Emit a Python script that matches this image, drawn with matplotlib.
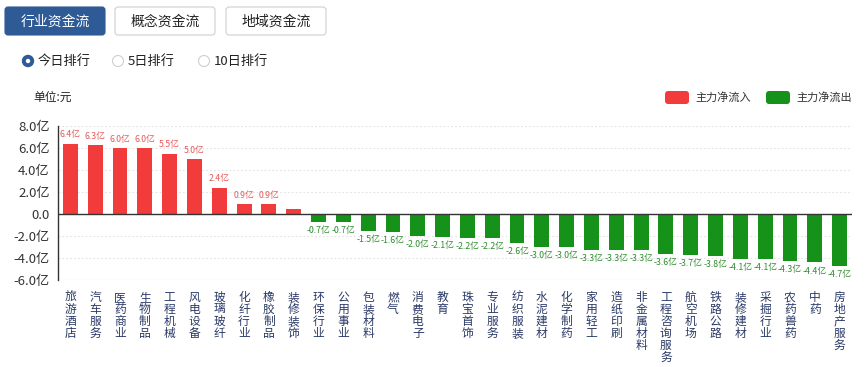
import matplotlib
matplotlib.use("Agg")
import matplotlib.pyplot as plt
from matplotlib.patches import FancyBboxPatch, Circle
import numpy as np

plt.rcParams['font.family'] = ['Noto Sans CJK SC', 'DejaVu Sans']

categories = ['旅游酒店', '汽车服务', '医药商业', '生物制品', '工程机械', '风电设备', '玻璃玻纤',
              '化纤行业', '橡胶制品', '装修装饰', '环保行业', '公用事业', '包装材料', '燃气',
              '消费电子', '教育', '珠宝首饰', '专业服务', '纺织服装', '水泥建材', '化学制药',
              '家用轻工', '造纸印刷', '非金属材料', '工程咨询服务', '航空机场', '铁路公路',
              '装修建材', '采掘行业', '农药兽药', '中药', '房地产服务']
values = [6.4, 6.3, 6.0, 6.0, 5.5, 5.0, 2.4, 0.9, 0.9, 0.5,
          -0.7, -0.7, -1.5, -1.6, -2.0, -2.1, -2.2, -2.2, -2.6, -3.0, -3.0,
          -3.3, -3.3, -3.3, -3.6, -3.7, -3.8, -4.1, -4.1, -4.3, -4.4, -4.7]
show_label = [True] * 9 + [False] + [True] * 22
yticks = [-6, -4, -2, 0, 2, 4, 6, 8]
tabs = ['行业资金流', '概念资金流', '地域资金流']
radios = ['今日排行', '5日排行', '10日排行']
legend_names = ['主力净流入', '主力净流出']

RED = '#f23c3c'
GREEN = '#16921a'
W, H = 865, 367

fig = plt.figure(figsize=(W / 100, H / 100), dpi=100)

# UI overlay in pixel coordinates
ui = fig.add_axes([0, 0, 1, 1])
ui.set_xlim(0, W)
ui.set_ylim(H, 0)
ui.axis('off')

tab_x = [5, 115, 226]
for i, (t, x0) in enumerate(zip(tabs, tab_x)):
    active = i == 0
    ui.add_patch(FancyBboxPatch((x0, 7), 100, 28, boxstyle='round,pad=0,rounding_size=3',
                                fc='#2e5a96' if active else 'white',
                                ec='#2e5a96' if active else '#cfcfcf', lw=0.8))
    ui.text(x0 + 50, 21.5, t, ha='center', va='center', fontsize=10,
            color='white' if active else '#222222')

radio_x = [28, 118, 204]
for i, (r, x0) in enumerate(zip(radios, radio_x)):
    if i == 0:
        ui.add_patch(Circle((x0, 61), 5.5, fc='#2e5a96', ec='#2e5a96'))
        ui.add_patch(Circle((x0, 61), 2.2, fc='white', ec='none'))
    else:
        ui.add_patch(Circle((x0, 61), 5.5, fc='white', ec='#cfcfcf', lw=0.8))
    ui.text(x0 + 10, 61, r, ha='left', va='center', fontsize=9.5, color='#222222')

ui.text(33, 97, '单位:元', ha='left', va='center', fontsize=8.5, color='#222222')

for name, col, x0 in zip(legend_names, [RED, GREEN], [665, 766]):
    ui.add_patch(FancyBboxPatch((x0, 91), 24, 13, boxstyle='round,pad=0,rounding_size=3',
                                fc=col, ec='none'))
    ui.text(x0 + 30, 97.5, name, ha='left', va='center', fontsize=8, color='#333333')

# main chart
ax = fig.add_axes([58 / W, 1 - 280 / H, (852 - 58) / W, (280 - 126) / H])
x = np.arange(len(categories))
colors = [RED if v >= 0 else GREEN for v in values]
ax.bar(x, values, width=0.6, color=colors, zorder=3)
ax.set_xlim(-0.5, len(categories) - 0.5)
ax.set_ylim(-6, 8)
ax.set_yticks(yticks)
ax.set_yticklabels(['0.0' if v == 0 else f'{v:.1f}亿' for v in yticks], fontsize=9.5, color='#333333')
ax.tick_params(axis='y', length=0, pad=6)
ax.tick_params(axis='x', length=0, pad=8)
ax.set_xticks(x)
ax.set_xticklabels(['\n'.join(c) for c in categories], fontsize=8.5, color='#2b3a67',
                   va='top', linespacing=0.9)

for yv in yticks:
    if yv != 0:
        ax.axhline(yv, color='#e3e3e3', lw=0.8, ls=(0, (1.5, 2)), zorder=1)
ax.axhline(-6, color='#e6e6e6', lw=0.8, zorder=1)
ax.axhline(0, color='#333333', lw=1.0, zorder=4)

for s in ['top', 'right', 'bottom']:
    ax.spines[s].set_visible(False)
ax.spines['left'].set_color('#333333')
ax.spines['left'].set_linewidth(1.0)

for xi, v, show in zip(x, values, show_label):
    if not show:
        continue
    if v >= 0:
        ax.annotate(f'{v:.1f}亿', (xi, v), xytext=(0, 3), textcoords='offset points',
                    ha='center', va='bottom', fontsize=6.3, color='#e25a5a')
    else:
        ax.annotate(f'{v:.1f}亿', (xi, v), xytext=(0, -3), textcoords='offset points',
                    ha='center', va='top', fontsize=6.3, color='#2e8b2e')

fig.savefig('out.png', dpi=100)
